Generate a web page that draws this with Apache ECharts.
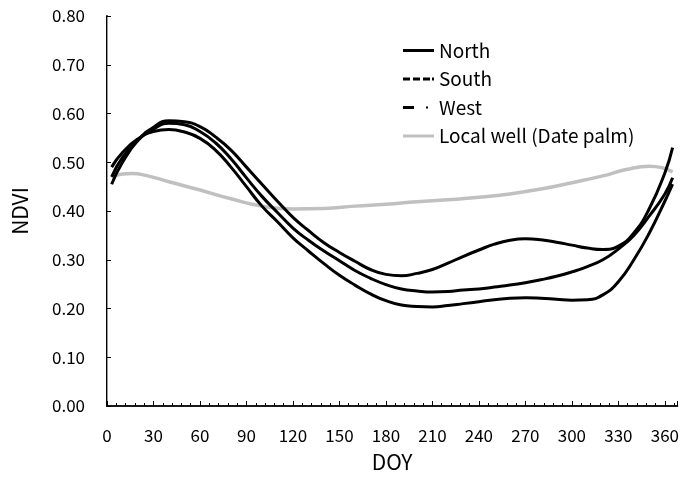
<!DOCTYPE html>
<html>
<head>
<meta charset="UTF-8">
<title>NDVI by DOY</title>
<script src="https://cdn.jsdelivr.net/npm/echarts@6/dist/echarts.min.js"></script>
<style>
  body { margin: 0; background: #fff; }
  #chart { width: 682px; height: 484px; }
</style>
</head>
<body>
<div id="chart"></div>
<script>
// DOY sample points
const doy = [3, 10, 20, 30, 40, 50, 60, 70, 80, 90, 100, 110, 120, 130, 140, 150, 160, 170, 180, 190, 200, 210, 220, 230, 240, 250, 260, 270, 280, 290, 300, 310, 320, 330, 340, 350, 360, 365];
const north = [0.455, 0.50, 0.545, 0.572, 0.585, 0.583, 0.573, 0.552, 0.525, 0.49, 0.455, 0.42, 0.387, 0.36, 0.335, 0.315, 0.297, 0.28, 0.27, 0.267, 0.272, 0.28, 0.293, 0.307, 0.32, 0.332, 0.34, 0.343, 0.341, 0.336, 0.33, 0.324, 0.321, 0.328, 0.355, 0.405, 0.478, 0.53];
const south = [0.47, 0.51, 0.545, 0.568, 0.58, 0.577, 0.563, 0.54, 0.507, 0.468, 0.43, 0.397, 0.365, 0.34, 0.318, 0.298, 0.278, 0.262, 0.249, 0.24, 0.236, 0.234, 0.235, 0.238, 0.24, 0.244, 0.248, 0.253, 0.259, 0.266, 0.275, 0.286, 0.30, 0.322, 0.35, 0.39, 0.435, 0.468];
const west = [0.49, 0.52, 0.548, 0.563, 0.567, 0.562, 0.549, 0.525, 0.49, 0.45, 0.41, 0.378, 0.345, 0.318, 0.292, 0.268, 0.248, 0.23, 0.216, 0.207, 0.204, 0.203, 0.206, 0.21, 0.214, 0.218, 0.221, 0.222, 0.221, 0.219, 0.217, 0.218, 0.228, 0.255, 0.30, 0.355, 0.42, 0.455];
const wellDoy = [3, 10, 16, 25, 40, 60, 80, 100, 120, 140, 160, 180, 200, 220, 240, 260, 280, 300, 320, 335, 350, 358, 365];
const well = [0.469, 0.476, 0.477, 0.473, 0.46, 0.443, 0.425, 0.41, 0.404, 0.405, 0.41, 0.414, 0.419, 0.423, 0.428, 0.435, 0.445, 0.458, 0.472, 0.485, 0.492, 0.489, 0.48];

const pairs = (xs, ys) => xs.map((x, i) => [x, ys[i]]);
const font = "'Noto Sans CJK JP', 'Liberation Sans', sans-serif";

// legend keys drawn as little line pieces (31 x 3 box)
const keySolid = 'path://M0,0H31V3H0Z';
const keyDash = 'path://M0,0H7V3H0Z M10,0H17V3H10Z M20,0H27V3H20Z M29,0H31V3H29Z';
const keyDashDot = 'path://M0,0H11V3H0Z M23,0.5H25V2.5H23Z M30.95,1.45H31V1.55H30.95Z';

let chart = echarts.init(document.getElementById('chart'));
chart.setOption({
    animation: false,
    backgroundColor: '#fff',
    grid: { left: 107, top: 16, right: 1.5, bottom: 78 },
    legend: {
        orient: 'vertical',
        left: 398, top: 36,
        itemWidth: 31, itemHeight: 3, itemGap: 9.5,
        textStyle: { fontFamily: font, fontSize: 19, color: '#000' },
        data: [
            { name: 'North', icon: keySolid },
            { name: 'South', icon: keyDash },
            { name: 'West', icon: keyDashDot },
            { name: 'Local well (Date palm)', icon: keySolid }
        ]
    },
    xAxis: [{
        type: 'value', min: 0, max: 368, interval: 30,
        name: 'DOY', nameLocation: 'middle', nameGap: 46,
        nameTextStyle: { fontFamily: font, fontSize: 21, color: '#000' },
        axisLine: { lineStyle: { color: '#000', width: 2 } },
        axisTick: { inside: true, length: 5, lineStyle: { color: '#000' } },
        minorTick: { show: true, splitNumber: 5, length: 3, lineStyle: { color: '#000' } },
        axisLabel: {
            margin: 21, fontFamily: font, fontSize: 17, color: '#000', showMaxLabel: false,
            formatter: v => (v % 30 === 0 ? String(v) : '')
        },
        splitLine: { show: false }
    }, {
        type: 'value', position: 'top', min: 0, max: 368,
        axisLine: { show: true, lineStyle: { color: '#222', width: 1.5 } },
        axisTick: { show: false }, axisLabel: { show: false }, splitLine: { show: false }
    }],
    yAxis: [{
        type: 'value', min: 0, max: 0.8, interval: 0.1,
        name: 'NDVI', nameLocation: 'middle', nameGap: 76, nameRotate: 90,
        nameTextStyle: { fontFamily: font, fontSize: 21, color: '#000' },
        axisLine: { show: true, lineStyle: { color: '#000', width: 2 } },
        axisTick: { show: true, inside: true, length: 4, lineStyle: { color: '#000' } },
        axisLabel: { margin: 22, fontFamily: font, fontSize: 17, color: '#000', formatter: v => v.toFixed(2) },
        splitLine: { show: false }
    }, {
        type: 'value', position: 'right', min: 0, max: 0.8,
        axisLine: { show: true, lineStyle: { color: '#999', width: 1 } },
        axisTick: { show: false }, axisLabel: { show: false }, splitLine: { show: false }
    }],
    series: [
        { name: 'North', type: 'line', smooth: true, symbol: 'none', data: pairs(doy, north), lineStyle: { color: '#000', width: 3 }, itemStyle: { color: '#000' } },
        { name: 'South', type: 'line', smooth: true, symbol: 'none', data: pairs(doy, south), lineStyle: { color: '#000', width: 3 }, itemStyle: { color: '#000' } },
        { name: 'West', type: 'line', smooth: true, symbol: 'none', data: pairs(doy, west), lineStyle: { color: '#000', width: 3 }, itemStyle: { color: '#000' } },
        { name: 'Local well (Date palm)', type: 'line', smooth: true, symbol: 'none', data: pairs(wellDoy, well), lineStyle: { color: '#c0c0c0', width: 3.5 }, itemStyle: { color: '#c0c0c0' }, z: 1 }
    ]
});
</script>
</body>
</html>
